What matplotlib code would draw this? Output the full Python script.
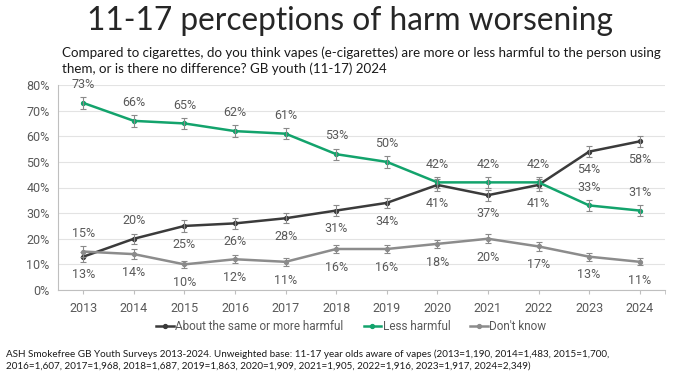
import matplotlib
matplotlib.use("Agg")
import matplotlib.pyplot as plt
from matplotlib.ticker import FixedLocator

years = ["2013", "2014", "2015", "2016", "2017", "2018", "2019", "2020", "2021", "2022", "2023", "2024"]
more_harmful = [13, 20, 25, 26, 28, 31, 34, 41, 37, 41, 54, 58]
less_harmful = [73, 66, 65, 62, 61, 53, 50, 42, 42, 42, 33, 31]
dont_know = [15, 14, 10, 12, 11, 16, 16, 18, 20, 17, 13, 11]
err_more = [2.0, 2.0, 2.2, 2.0, 2.0, 2.2, 2.0, 2.2, 2.2, 2.2, 2.2, 2.0]
err_less = [2.4, 2.2, 2.2, 2.2, 2.2, 2.2, 2.2, 2.2, 2.2, 2.2, 2.0, 2.0]
err_dk = [2.0, 2.0, 1.5, 1.5, 1.5, 1.7, 1.7, 1.7, 1.8, 1.7, 1.5, 1.4]

# label placement: +1 above, -1 below
pos_more = [-1, 1, -1, -1, -1, -1, -1, -1, -1, -1, -1, -1]
pos_less = [1] * 12
pos_dk = [1, -1, -1, -1, -1, -1, -1, -1, -1, -1, -1, -1]

series_names = ["About the same or more harmful", "Less harmful", "Don't know"]
colors = ["#3b3b3b", "#13a36c", "#8c8c8c"]

title = "11-17 perceptions of harm worsening"
subtitle = ("Compared to cigarettes, do you think vapes (e-cigarettes) are more or less harmful to the person using\n"
            "them, or is there no difference? GB youth (11-17) 2024")
footnote = ("ASH Smokefree GB Youth Surveys 2013-2024. Unweighted base: 11-17 year olds aware of vapes (2013=1,190, 2014=1,483, 2015=1,700,\n"
            "2016=1,607, 2017=1,968, 2018=1,687, 2019=1,863, 2020=1,909, 2021=1,905, 2022=1,916, 2023=1,917, 2024=2,349)")

chart_font = ["Roboto", "DejaVu Sans"]
text_font = ["Lato", "DejaVu Sans"]

fig = plt.figure(figsize=(7.0, 3.81), dpi=100)
ax = fig.add_axes([58 / 700, 1 - 290 / 381, (665 - 58) / 700, (290 - 85) / 381])

x = list(range(len(years)))
data = [more_harmful, less_harmful, dont_know]
errs = [err_more, err_less, err_dk]
poss = [pos_more, pos_less, pos_dk]

for vals, err, pos, col, name in zip(data, errs, poss, colors, series_names):
    ax.plot(x, vals, color=col, lw=1.8, marker="o", ms=2.8, label=name, zorder=3)
    ax.errorbar(x, vals, yerr=err, fmt="none", ecolor="#8a8a8a", elinewidth=0.8,
                capsize=2, capthick=0.8, zorder=4)
    for xi, v, p in zip(x, vals, pos):
        ax.annotate(f"{v}%", (xi, v), xytext=(0, 8.5 * p), textcoords="offset points",
                    ha="center", va="bottom" if p > 0 else "top",
                    fontsize=9, color="#595959", family=chart_font)

ax.set_xlim(-0.5, len(years) - 0.5)
ax.set_ylim(0, 80)
ax.set_yticks(range(0, 81, 10))
ax.set_yticklabels([f"{v}%" for v in range(0, 81, 10)], family=chart_font, fontsize=9, color="#595959")
ax.set_xticks(x)
ax.set_xticklabels(years, family=chart_font, fontsize=9, color="#595959")
ax.xaxis.set_minor_locator(FixedLocator([len(years) - 0.5]))
ax.tick_params(axis="x", which="both", length=3, color="#bfbfbf", pad=6)
ax.tick_params(axis="y", length=0, pad=6)
ax.grid(axis="y", color="#e3e3e3", lw=0.8)
ax.set_axisbelow(True)
for s in ["top", "right"]:
    ax.spines[s].set_visible(False)
ax.spines["left"].set_color("#bfbfbf")
ax.spines["bottom"].set_color("#bfbfbf")

leg = fig.legend(loc="center", bbox_to_anchor=(0.502, 1 - 327 / 381), ncol=3, frameon=False,
                 prop={"family": chart_font, "size": 8.5}, handlelength=1.5, handletextpad=0.1,
                 columnspacing=1.7)
for t in leg.get_texts():
    t.set_color("#595959")

fig.text(0.5, 1 - 21 / 381, title, ha="center", va="center", fontsize=22.8,
         family=text_font, weight="normal", color="#262626")
fig.text(62 / 700, 1 - 61 / 381, subtitle, ha="left", va="center", fontsize=9.6,
         family=text_font, color="#1a1a1a", linespacing=1.35)
fig.text(6 / 700, 1 - 360 / 381, footnote, ha="left", va="center", fontsize=7.15,
         family=text_font, color="#1a1a1a", linespacing=1.5)

fig.savefig("out.png", dpi=100)
